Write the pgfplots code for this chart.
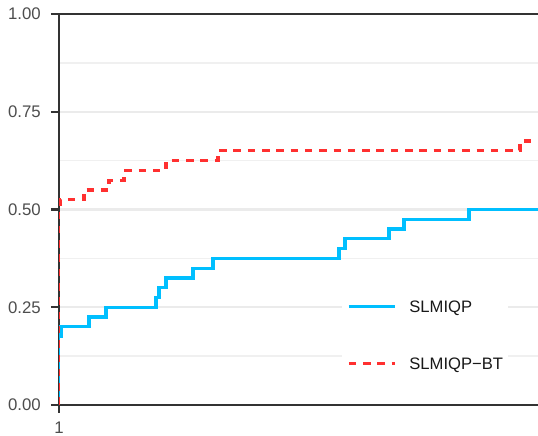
\documentclass[border=0pt]{standalone}
\usepackage{fontspec}
\setmainfont{Liberation Sans}
\usepackage{pgfplots}
\pgfplotsset{compat=1.18}
\pgfplotsset{layers/mylayers/.define layer set={axis background,axis grid,pre main,main,axis ticks,axis lines,axis tick labels,axis descriptions,axis foreground}{}}
\definecolor{slblue}{HTML}{00BFFF}
\definecolor{slred}{HTML}{FF3030}
\definecolor{spine}{HTML}{333333}
\definecolor{tickgray}{HTML}{4D4D4D}
\definecolor{gridmaj}{HTML}{EBEBEB}
\definecolor{gridmin}{HTML}{F0F0F0}
\begin{document}
\begin{tikzpicture}
\begin{axis}[
  set layers=mylayers,
  at={(59bp,31bp)}, anchor=south west,
  scale only axis, width=482bp, height=391bp,
  xmin=1, xmax=5.82, ymin=0, ymax=1,
  xtick={1}, xticklabels={1},
  ytick={0,0.25,0.5,0.75,1},
  yticklabels={0.00,0.25,0.50,0.75,1.00},
  minor ytick={0.125,0.375,0.625,0.875},
  ymajorgrids, yminorgrids,
  major grid style={draw=gridmaj, line width=2.2bp},
  minor grid style={draw=gridmin, line width=1.4bp},
  minor tick length=0pt,
  tick align=outside, major tick length=8bp,
  xtick pos=bottom, ytick pos=left,
  tick style={draw=spine, line width=2.2bp},
  axis line style={draw=spine, line width=2.4bp},
  ticklabel style={font=\fontsize{16.8bp}{19bp}\selectfont, text=tickgray},
  yticklabel style={anchor=east, inner sep=0pt, xshift=-10bp},
  xticklabel style={anchor=north, inner sep=0pt, yshift=-9bp},
  legend style={
    at={(axis description cs:0.5871,0.2885)}, anchor=north west,
    draw=none, fill=white,
    font=\fontsize{16.6bp}{19bp}\selectfont, text=black!90,
    inner xsep=5bp, inner ysep=8bp,
    row sep=44bp, column sep=13bp,
    nodes={inner sep=0pt, text height=12bp, text depth=1bp},
  },
  legend cell align=left,
  legend image code/.code={\draw[#1] (0bp,0bp) -- (46bp,0bp);},
]
\addplot[const plot, draw=slblue, line width=3.2bp] coordinates {
  (0.996,0) (0.996,0.175) (1.02,0.200) (1.30,0.225) (1.47,0.250) (1.97,0.275)
  (2.00,0.300) (2.07,0.325) (2.34,0.350) (2.54,0.375) (3.80,0.400)
  (3.86,0.425) (4.30,0.450) (4.45,0.475) (5.10,0.500) (5.82,0.500)
};
\addlegendentry{SLMIQP}
\addplot[const plot, draw=slred, line width=3.2bp, dash pattern=on 7.5bp off 6.8bp] coordinates {
  (0.996,0) (0.996,0.500) (1.01,0.525) (1.25,0.550) (1.50,0.575) (1.65,0.600)
  (2.07,0.625) (2.59,0.650) (5.61,0.675) (5.82,0.675)
};
\addlegendentry{SLMIQP−BT}
\end{axis}
\pgfresetboundingbox
\path[use as bounding box] (0,0) rectangle (538bp,436bp);
\end{tikzpicture}
\end{document}
